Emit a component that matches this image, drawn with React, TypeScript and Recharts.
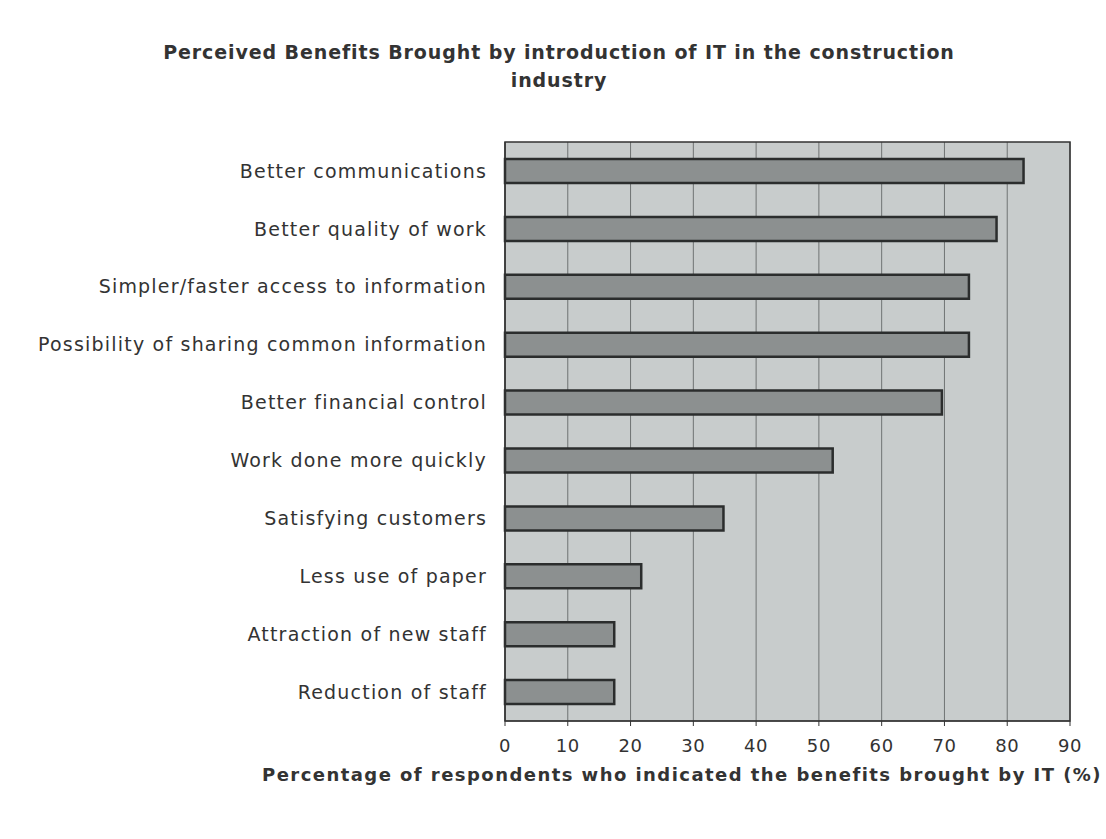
import {
  Bar,
  BarChart,
  CartesianGrid,
  ReferenceArea,
  XAxis,
  YAxis,
} from "recharts";

const benefits = [
  "Better communications",
  "Better quality of work",
  "Simpler/faster access to information",
  "Possibility of sharing common information",
  "Better financial control",
  "Work done more quickly",
  "Satisfying customers",
  "Less use of paper",
  "Attraction of new staff",
  "Reduction of staff",
];

const percentages = [82.6, 78.3, 73.9, 73.9, 69.6, 52.2, 34.8, 21.7, 17.4, 17.4];

const xTicks = [0, 10, 20, 30, 40, 50, 60, 70, 80, 90];

const data = benefits.map((name, i) => ({ name, value: percentages[i] }));

const font = "'DejaVu Sans', 'Liberation Sans', Arial, sans-serif";

export default function App() {
  return (
    <div
      style={{
        position: "absolute",
        left: 0,
        top: 0,
        width: 1106,
        height: 839,
        background: "#ffffff",
        fontFamily: font,
      }}
    >
      <div
        style={{
          position: "absolute",
          left: 6,
          top: 38,
          width: 1106,
          textAlign: "center",
          fontWeight: "bold",
          fontSize: 19,
          letterSpacing: 0.9,
          lineHeight: "28px",
          color: "#333",
        }}
      >
        Perceived Benefits Brought by introduction of IT in the construction
        <br />
        industry
      </div>
      <BarChart
        width={1106}
        height={839}
        layout="vertical"
        data={data}
        margin={{ top: 142, right: 36, bottom: 58, left: 0 }}
        barSize={24}
      >
        <CartesianGrid
          horizontal={false}
          stroke="#6f7373"
          fill="#c8cccc"
          fillOpacity={1}
        />
        <XAxis
          type="number"
          domain={[0, 90]}
          ticks={xTicks}
          interval={0}
          stroke="#333"
          tickSize={5}
          tick={{ fontSize: 18, fill: "#333", fontFamily: font, letterSpacing: 0.6 }}
          tickMargin={13}
          height={60}
        />
        <YAxis
          type="category"
          dataKey="name"
          width={505}
          stroke="#333"
          tickLine={false}
          tickMargin={12}
          tick={{ fontSize: 19, fill: "#333", fontFamily: font, letterSpacing: 1.2 }}
          interval={0}
        />
        <ReferenceArea
          x1={0}
          x2={90}
          fill="none"
          stroke="#333"
          strokeWidth={1.5}
          ifOverflow="extendDomain"
        />
        <Bar
          dataKey="value"
          fill="#8c9090"
          stroke="#2b2d2d"
          strokeWidth={2.5}
          isAnimationActive={false}
        />
      </BarChart>
      <div
        style={{
          position: "absolute",
          left: 262,
          top: 764,
          textAlign: "left",
          fontWeight: "bold",
          fontSize: 18,
          letterSpacing: 1.45,
          color: "#333",
          whiteSpace: "nowrap",
        }}
      >
        Percentage of respondents who indicated the benefits brought by IT (%)
      </div>
    </div>
  );
}
